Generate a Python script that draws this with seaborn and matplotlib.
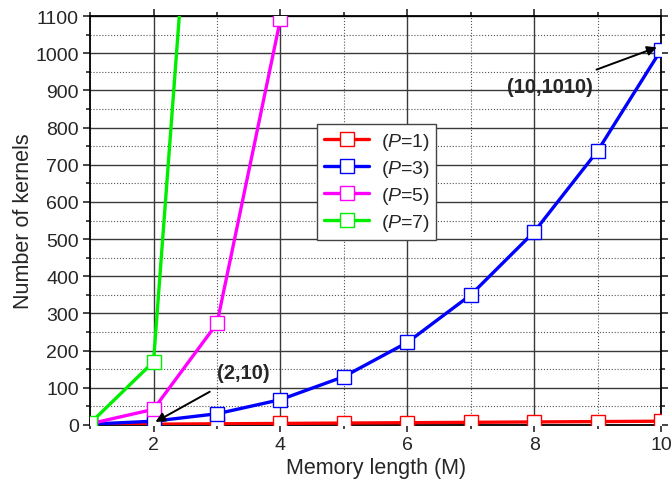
import pandas as pd
import matplotlib
matplotlib.use('Agg')
import matplotlib.pyplot as plt
from matplotlib.ticker import MultipleLocator
import seaborn as sns

# values
memory_p1 = [1, 2, 3, 4, 5, 6, 7, 8, 9, 10]
kernels_p1 = [1, 2, 3, 4, 5, 6, 7, 8, 9, 10]
memory_p3 = [1, 2, 3, 4, 5, 6, 7, 8, 9, 10]
kernels_p3 = [2, 10, 30, 68, 130, 222, 350, 520, 738, 1010]
memory_p5 = [1, 2, 3, 4]
kernels_p5 = [3, 42, 273, 1092]
memory_p7 = [1, 2, 3]
kernels_p7 = [4, 170, 2460]

series = [
    ('1', memory_p1, kernels_p1, '#ff0000'),
    ('3', memory_p3, kernels_p3, '#0000ff'),
    ('5', memory_p5, kernels_p5, '#ff00ff'),
    ('7', memory_p7, kernels_p7, '#00ee00'),
]

sns.set_style('ticks')
plt.rcParams['font.family'] = ['Liberation Sans', 'DejaVu Sans']
plt.rcParams['mathtext.fontset'] = 'custom'
plt.rcParams['mathtext.it'] = 'Liberation Sans:italic'
plt.rcParams['mathtext.rm'] = 'Liberation Sans'

fig = plt.figure(figsize=(6.72, 4.89), dpi=100)
ax = fig.add_axes([0.134, 0.129, 0.850, 0.836])

for p, xs, ys, col in series:
    df = pd.DataFrame({'M': xs, 'K': ys})
    sns.lineplot(data=df, x='M', y='K', ax=ax, color=col, linewidth=2.4,
                 marker='s', markersize=10, markerfacecolor='white',
                 markeredgecolor=col, markeredgewidth=1.0,
                 label='($\\mathit{P}$=' + p + ')', zorder=3)

ax.set_xlim(1, 10)
ax.set_ylim(0, 1100)
ax.xaxis.set_major_locator(MultipleLocator(2))
ax.xaxis.set_minor_locator(MultipleLocator(1))
ax.yaxis.set_major_locator(MultipleLocator(100))
ax.yaxis.set_minor_locator(MultipleLocator(50))
ax.grid(which='major', color='#3a3a3a', linestyle='-', linewidth=1.0)
ax.grid(which='minor', color='#555555', linestyle=':', linewidth=0.8)
ax.tick_params(which='both', direction='out', top=True, right=True,
               labelsize=14, width=1.2)
ax.tick_params(which='major', length=5, pad=3)
ax.tick_params(which='minor', length=3)
for s in ax.spines.values():
    s.set_linewidth(1.3)
    s.set_color('black')

ax.set_xlabel('Memory length (M)', fontsize=15.5, labelpad=3)
ax.set_ylabel('Number of kernels', fontsize=15.5, labelpad=1)

ax.annotate('(2,10)', xy=(2.03, 8), xytext=(3.42, 140), fontsize=14.5,
            fontweight='bold', ha='center', va='center',
            arrowprops=dict(arrowstyle='-|>', color='black', lw=1.4,
                            mutation_scale=14, shrinkA=9, shrinkB=0))
ax.annotate('(10,1010)', xy=(9.93, 1016), xytext=(8.25, 910), fontsize=14.5,
            fontweight='bold', ha='center', va='center',
            arrowprops=dict(arrowstyle='-|>', color='black', lw=1.4,
                            mutation_scale=14, shrinkA=9, shrinkB=0))

leg = ax.legend(loc='upper left', bbox_to_anchor=(0.398, 0.735),
                borderaxespad=0, fontsize=14, frameon=True, fancybox=False,
                edgecolor='#444444', framealpha=1, handlelength=2.3,
                handletextpad=0.6, labelspacing=0.3, borderpad=0.35)
leg.get_frame().set_linewidth(1.0)

fig.savefig('out.png', dpi=100)
